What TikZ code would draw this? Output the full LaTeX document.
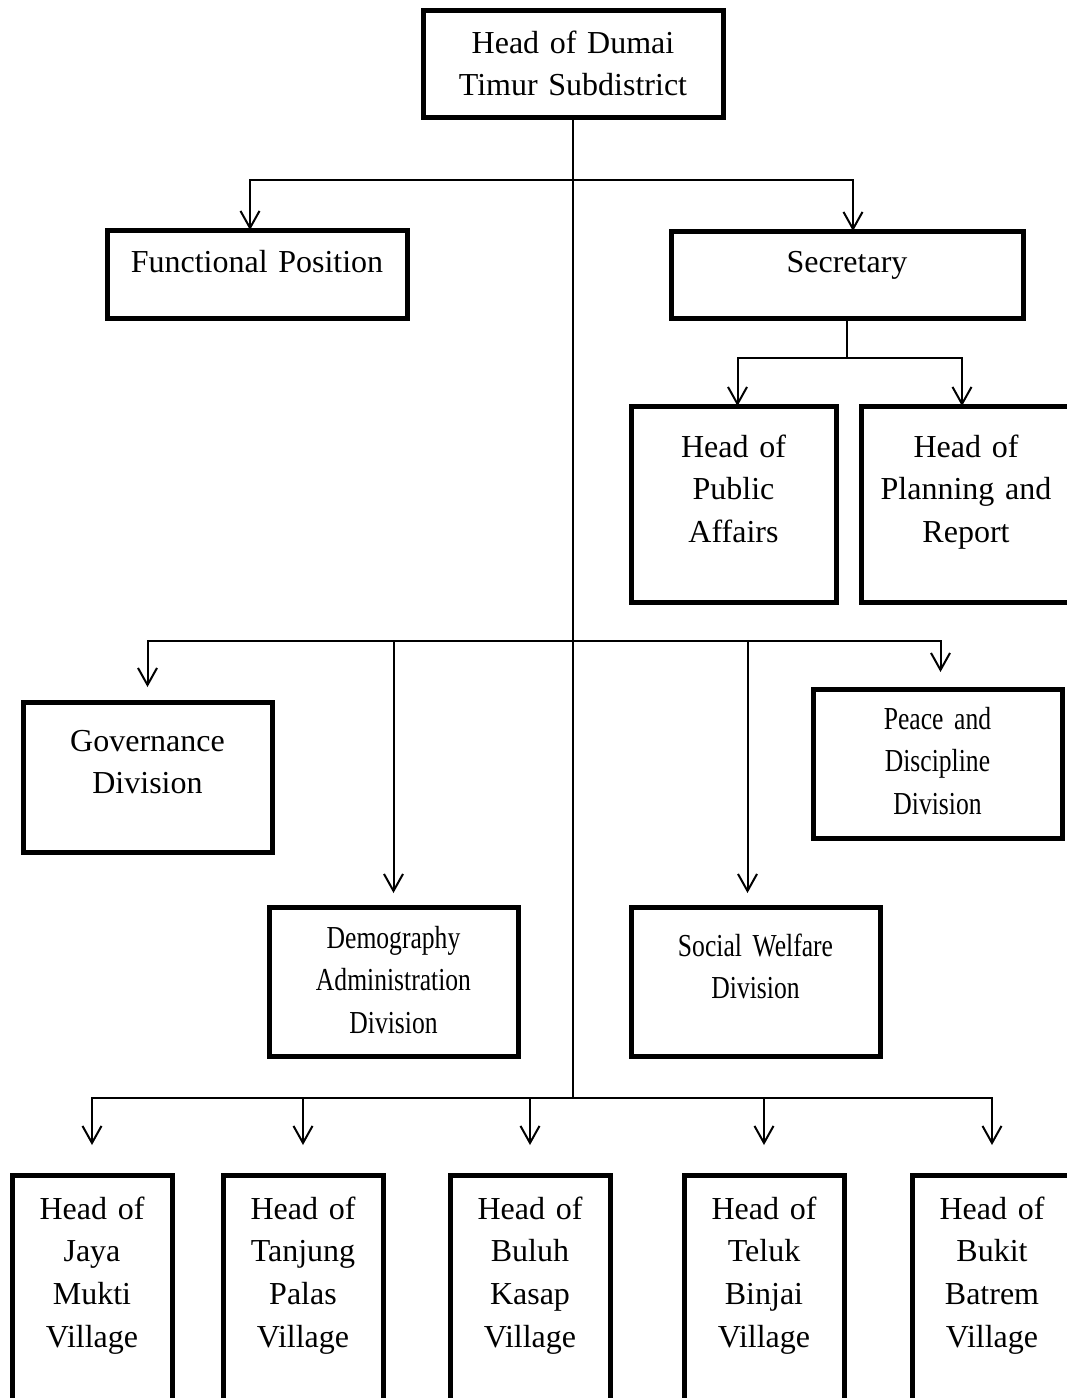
\documentclass[tikz,border=0pt]{standalone}
\usepackage{fontspec}
\setmainfont{Liberation Serif}
\newfontfamily\narrowserif[FakeStretch=0.8]{Liberation Serif}
\usepackage{tikz}
\usetikzlibrary{arrows.meta}
\tikzset{
	orgunit/.style={draw, line width=5pt, align=center, inner sep=0pt, outer sep=0pt, font=\fontsize{32}{42.7}\selectfont},
	narrow/.style={font=\fontsize{32}{42.7}\narrowserif},
	link/.style={line width=2pt},
	arr/.style={link, -{Straight Barb[length=17pt,width=19pt]}},
}
\newcommand{\orgbox}[8][]{
	\pgfmathsetmacro{\boxwd}{#5 - #3} % width of the box
	\pgfmathsetmacro{\boxht}{#7 - #4} % top edge down to the first baseline
	\pgfmathsetmacro{\boxdp}{#6 - #7} % first baseline down to the bottom edge
	\node[orgunit, #1, anchor=north west, text width=\boxwd pt, text height=\boxht pt, text depth=\boxdp pt] (#2) at (#3,#4) {#8};
}

\begin{document}
\begin{tikzpicture}[x=1pt,y=-1pt]
	% page frame, the chart runs off the right and bottom edge
	\useasboundingbox (0,0) rectangle (1067,1398);
	\clip (0,0) rectangle (1067,1398);
	
	% head, secretary and his staff
	\orgbox{head}{423}{10}{723}{117}{53}{Head of Dumai\\Timur Subdistrict}
	\orgbox{func}{107}{230}{407}{318}{272}{Functional Position}
	\orgbox{sec}{671}{231}{1023}{318}{272}{Secretary}
	\orgbox{pub}{631}{406}{836}{602}{457}{Head of\\Public\\Affairs}
	\orgbox{plan}{861}{406}{1071}{602}{457}{Head of\\Planning and\\Report}
	
	% the four divisions
	\orgbox{gov}{23}{702}{272}{852}{751}{Governance\\Division}
	\orgbox[narrow]{peace}{813}{689}{1062}{838}{729}{Peace and\\Discipline\\Division}
	\orgbox[narrow]{demo}{269}{907}{518}{1056}{948}{Demography\\Administration\\Division}
	\orgbox[narrow]{soc}{631}{907}{880}{1056}{956}{Social Welfare\\Division}
	
	% the villages
	\foreach \nm/\xa/\txt in {jaya/12/{Jaya\\Mukti}, tanjung/223/{Tanjung\\Palas}, buluh/450/{Buluh\\Kasap}, teluk/684/{Teluk\\Binjai}, bukit/912/{Bukit\\Batrem}} {
		\orgbox{\nm}{\xa}{1175}{\xa+160}{1430}{1219}{Head of\\\txt\\Village}
	}
	
	% lines between the units
	\coordinate (bus1) at (573,180);
	\coordinate (bus2) at (847,358);
	\coordinate (bus3) at (573,641);
	\coordinate (bus4) at (573,1098);
	\draw[link] (head.south) -- (bus4);
	\draw[arr] (bus1) -| ([xshift=-7]func.north);
	\draw[arr] (bus1) -| ([xshift=6]sec.north);
	\draw[link] (sec.south) -- (bus2);
	\draw[arr] (bus2) -| ([xshift=4]pub.north);
	\draw[arr] (bus2) -| ([xshift=-4]plan.north);
	\draw[arr, shorten >=15] (bus3) -| (gov.north);
	\draw[arr, shorten >=14] (bus3) -| (demo.north);
	\draw[arr, shorten >=14] (bus3) -| ([xshift=-8]soc.north);
	\draw[arr, shorten >=17] (bus3) -| ([xshift=3]peace.north);
	\foreach \nm in {jaya,tanjung,buluh,teluk,bukit}
		\draw[arr, shorten >=30] (bus4) -| (\nm.north);
\end{tikzpicture}
\end{document}
